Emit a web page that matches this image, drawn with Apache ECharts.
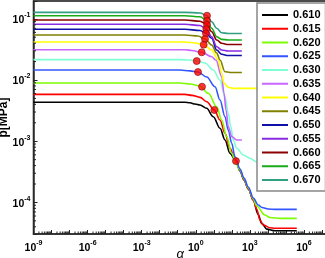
<!DOCTYPE html>
<html><head><meta charset="utf-8">
<script src="https://cdn.jsdelivr.net/npm/echarts@6/dist/echarts.min.js"></script>
<style>html,body{margin:0;padding:0;background:#fff}#c{width:325px;height:258px}</style>
</head><body><div id="c"></div>
<script>
const names = ['0.610','0.615','0.620','0.625','0.630','0.635','0.640','0.645','0.650','0.655','0.660','0.665','0.670'];
const colors = ['#000000','#ff0000','#7cfc00','#3355ff','#7fffd4','#c966ff','#ffff00','#808000','#1010a8','#8a2be2','#8b0000','#1aaa1a','#30a080'];

const c0610 = [[1e-9,0.00433],[0.25,0.00433],[0.48,0.00425],[0.906,0.00405],[1.72,0.00391],[4.04,0.00345],[9.38,0.00251],[22.1,0.00163],[41.8,0.00105],[79.2,6.34e-4],[170,4.74e-4],[284,3.26e-4],[473,2.32e-4],[819,1.66e-4],[1550,1.09e-4],[2830,6.45e-5],[4540,4.55e-5],[8590,3.67e-5],[24800,3.45e-5],[4e5,3.45e-5]];
const c0615 = [[1e-9,0.00583],[0.25,0.00583],[0.618,0.00562],[1.72,0.00521],[4.04,0.00442],[10.7,0.00324],[22.1,0.00222],[41.8,0.00135],[79.2,7.66e-4],[150,5.0e-4],[284,3.38e-4],[473,2.35e-4],[819,1.68e-4],[1550,1.1e-4],[2390,7.8e-5],[3650,5.15e-5],[5560,4.27e-5],[13100,3.86e-5],[24800,3.78e-5],[4e5,3.78e-5]];
const c0620 = [[1e-9,0.00893],[0.13,0.00893],[0.48,0.0086],[1.72,0.00798],[4.95,0.00607],[14.5,0.00366],[27.4,0.00222],[52,0.00119],[98.4,6.34e-4],[170,4.35e-4],[284,3.38e-4],[473,2.41e-4],[819,1.72e-4],[1550,1.14e-4],[2390,8.73e-5],[6900,6.22e-5],[13100,5.66e-5],[47900,5.5e-5],[4e5,5.5e-5]];
const c0625 = [[1e-9,0.01456],[0.13,0.01456],[0.48,0.0141],[1.33,0.0135],[4.04,0.0112],[11.7,0.00778],[22.1,0.00471],[41.8,0.00251],[63.7,0.00152],[98.4,9.25e-4],[150,5.58e-4],[284,3.52e-4],[473,2.5e-4],[819,1.79e-4],[1550,1.18e-4],[2940,9.07e-5],[4710,8.26e-5],[10500,7.8e-5],[24800,7.71e-5],[4e5,7.71e-5]];
const c0630 = [[1e-9,0.0215],[0.13,0.0215],[0.48,0.0212],[1.13,0.0204],[3.25,0.019],[9.38,0.01456],[22.1,0.01],[41.8,0.00533],[63.7,0.00286],[86.5,0.00173],[121,0.00105],[186,7.66e-4],[432,5.96e-4],[1019,5.26e-4],[2390,4.62e-4],[4e5,4.62e-4]];
const c0635 = [[1e-9,0.0313],[0.25,0.0313],[0.618,0.0303],[2.13,0.0284],[7.65,0.024],[13.2,0.0212],[27.4,0.01133],[36.8,0.00607],[47.5,0.00324],[63.7,0.00173],[98.4,0.00119],[186,0.00105],[360,0.00105]];
const c0640 = [[1e-9,0.0418],[0.25,0.0418],[0.906,0.0403],[2.75,0.0378],[7.65,0.0309],[17.8,0.0212],[27.4,0.01286],[36.8,0.00883],[63.7,0.0076],[116,0.00731],[4e5,0.00731]];
const c0645 = [[1e-9,0.0543],[0.25,0.0543],[1.33,0.0523],[3.25,0.0468],[7.65,0.0373],[14.5,0.0276],[22.1,0.0212],[41.8,0.01368],[79.2,0.01328],[360,0.01328]];
const c0650 = [[1e-9,0.0674],[0.25,0.0674],[1.72,0.0644],[3.69,0.0579],[7.65,0.048],[14.5,0.0309],[27.4,0.0263],[63.7,0.0251],[360,0.0251]];
const c0655 = [[1e-9,0.0813],[0.25,0.0813],[1.72,0.0778],[3.84,0.0681],[7.65,0.051],[14.5,0.035],[27.4,0.0309],[63.7,0.0298],[360,0.0298]];
const c0660 = [[1e-9,0.0956],[0.25,0.0956],[1.72,0.0914],[4.2,0.0801],[7.65,0.0615],[14.5,0.0451],[27.4,0.0398],[63.7,0.038],[360,0.038]];
const c0665 = [[1e-9,0.1124],[0.25,0.1124],[1.72,0.108],[4.2,0.0931],[7.65,0.070],[14.5,0.051],[27.4,0.0462],[63.7,0.0451],[360,0.0451]];
const c0670 = [[1e-9,0.1276],[0.25,0.1276],[1.72,0.1244],[4.2,0.1124],[7.65,0.0897],[14.5,0.070],[27.4,0.0593],[63.7,0.0575],[360,0.0575]];
const curves = [c0610,c0615,c0620,c0625,c0630,c0635,c0640,c0645,c0650,c0655,c0660,c0665,c0670];

const dots = [[4.2,0.1124],[4.2,0.0931],[4.2,0.0801],[3.84,0.0681],[3.69,0.0579],[3.25,0.0468],[2.75,0.0378],[2.13,0.0284],[1.13,0.0204],[1.33,0.0135],[2.22,0.00778],[10.7,0.00324],[170,4.74e-4]];

const xLabelExp = [-9,-6,-3,0,3,6];
const yLabelExp = [-4,-3,-2,-1];
const X_MIN = 1e-9, X_MAX = 1.9e7, Y_MIN = 3.05e-5, Y_MAX = 0.1954;

function expOf(v){ const e = Math.log10(v); return Math.abs(e - Math.round(e)) < 1e-6 ? Math.round(e) : null; }
function fmt(list){ return function(v){ const e = expOf(v); return (e !== null && list.indexOf(e) >= 0) ? '{b|10}{s|' + e + '}' : ''; }; }

const xMinor = [];
for (let e = -9; e < 8; e++) for (let k = 2; k <= 9; k++) { const v = k * Math.pow(10, e); if (v > X_MIN && v < X_MAX) xMinor.push([v, Y_MIN]); }
const yMinor = [];
for (let e = -5; e < 0; e++) for (let k = 2; k <= 9; k++) { const v = k * Math.pow(10, e); if (v > Y_MIN && v < Y_MAX) yMinor.push([X_MIN, v]); }

const rich = {
  b: { fontSize: 10.5, fontWeight: 'bold', color: '#000', fontFamily: 'Liberation Sans', lineHeight: 14, verticalAlign: 'bottom' },
  s: { fontSize: 7, fontWeight: 'bold', color: '#000', fontFamily: 'Liberation Sans', lineHeight: 14, verticalAlign: 'top' }
};

const series = curves.map((d, i) => ({
  name: names[i], type: 'line', data: d, symbol: 'none', showSymbol: false,
  smooth: 0.35, smoothMonotone: 'x',
  lineStyle: { color: colors[i], width: 1.6 }, itemStyle: { color: colors[i] }, z: 2
}));
series.push({
  name: 'dots', type: 'scatter', data: dots, symbol: 'circle', symbolSize: 7,
  itemStyle: { color: '#ff0000', borderColor: '#7a1010', borderWidth: 0.8 }, z: 5
});
series.push({
  name: 'xminor', type: 'custom', data: xMinor, silent: true, z: 6,
  renderItem: (p, api) => { const c = api.coord([api.value(0), api.value(1)]);
    return { type: 'line', shape: { x1: c[0], y1: c[1], x2: c[0], y2: c[1] - 2.5 }, style: { stroke: '#222', lineWidth: 1 } }; }
});
series.push({
  name: 'yminor', type: 'custom', data: yMinor, silent: true, z: 6,
  renderItem: (p, api) => { const c = api.coord([api.value(0), api.value(1)]);
    return { type: 'line', shape: { x1: c[0], y1: c[1], x2: c[0] + 2.5, y2: c[1] }, style: { stroke: '#222', lineWidth: 1 } }; }
});

const chart = echarts.init(document.getElementById('c'), null, { renderer: 'canvas' });
chart.setOption({
  animation: false,
  backgroundColor: '#fff',
  grid: { left: 33.5, top: 1, right: -2, bottom: 24, containLabel: false, outerBoundsMode: 'none',
          show: true, borderColor: '#111', borderWidth: 1.5, backgroundColor: 'transparent' },
  legend: {
    data: names, orient: 'vertical', left: 257, top: 3, icon: 'rect',
    backgroundColor: '#fff', borderColor: '#888', borderWidth: 1.5, borderRadius: 0,
    padding: [6, 5, 5, 5], itemWidth: 26, itemHeight: 2, itemGap: 1.75,
    textStyle: { fontSize: 11, fontWeight: 'bold', color: '#000', fontFamily: 'Liberation Sans', lineHeight: 12, height: 12 }
  },
  xAxis: {
    type: 'log', logBase: 10, min: X_MIN, max: X_MAX, interval: 1,
    name: 'α', nameLocation: 'middle', nameGap: 14, nameMoveOverlap: false,
    nameTextStyle: { fontSize: 13, fontStyle: 'italic', color: '#000', fontFamily: 'Liberation Sans' },
    axisLine: { lineStyle: { color: '#333', width: 1.5 } },
    axisTick: { inside: true, length: 4, lineStyle: { color: '#222' } },
    splitLine: { show: false },
    axisLabel: { formatter: fmt(xLabelExp), margin: 6, rich: rich, showMinLabel: true, showMaxLabel: true, hideOverlap: false }
  },
  yAxis: {
    type: 'log', logBase: 10, min: Y_MIN, max: Y_MAX,
    name: 'p[MPa]', nameLocation: 'middle', nameGap: 24, nameRotate: 90, nameMoveOverlap: false,
    nameTextStyle: { fontSize: 12, fontWeight: 'bold', color: '#000', fontFamily: 'Liberation Sans' },
    axisLine: { lineStyle: { color: '#333', width: 1.5 } },
    axisTick: { inside: true, length: 4, lineStyle: { color: '#222' } },
    splitLine: { show: false },
    axisLabel: { formatter: fmt(yLabelExp), margin: 3, rich: rich, hideOverlap: false }
  },
  series: series
});
</script></body></html>
